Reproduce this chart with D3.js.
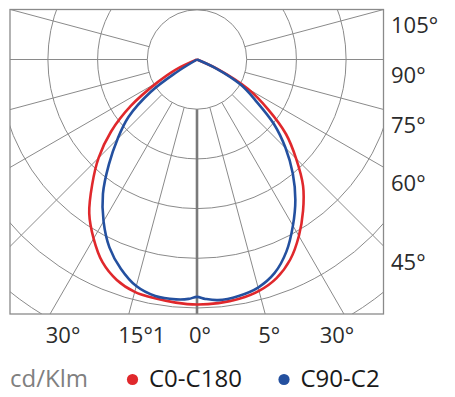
<!DOCTYPE html>
<html>
<head>
<meta charset="utf-8">
<script src="https://cdn.jsdelivr.net/npm/d3@7"></script>
<style>
  html, body { margin: 0; padding: 0; background: #fff; }
  svg { display: block; font-family: "Open Sans", "Noto Sans", sans-serif; }
</style>
</head>
<body>
<svg id="chart" width="455" height="397"></svg>
<script>
// ---------------- DATA ----------------
// angles in degrees from nadir (negative = left), intensities in cd/klm (relative units)
const redAngles  = [-67, -64.5, -60, -55, -50, -45, -40, -35, -30, -25, -20, -15, -10, -5, 0, 5, 10, 15, 20, 25, 30, 35, 40, 45, 50, 55, 60, 65, 69];
const redValues  = [0, 24, 46, 81, 113, 140, 164, 189, 208, 225, 236, 242, 244, 245.5, 246.5, 246, 244.5, 241, 234, 222, 205, 186, 166, 141, 117, 87, 59, 23, 0];
const blueAngles = [-63, -58, -55, -50, -45, -40, -35, -30, -25, -20, -15, -10, -5, -2, 0, 2, 5, 10, 15, 20, 25, 30, 35, 40, 45, 50, 55, 60, 65, 69];
const blueValues = [0, 26, 57, 90, 113, 138, 165, 188, 208.5, 224, 236, 241.6, 242.2, 241, 238.8, 241, 243, 241.5, 237.5, 228.5, 213, 193, 172.5, 150, 126, 101, 72, 51, 21, 0];
const seriesNames = ["C0-C180", "C90-C2"];
const ringValues = [50, 100, 150, 200, 250, 300, 350];
const spokeAngles = [-105, -90, -75, -60, -45, -30, -15, 0, 15, 30, 45, 60, 75, 90, 105];
const rightLabelAngles = [105, 90, 75, 60, 45];
const rightLabels = ["105°", "90°", "75°", "60°", "45°"];
const bottomLabelAngles = [-30, -15, 0, 15, 30];
const bottomLabels = ["30°", "15°1", "0°", "5°", "30°"];
const unitLabel = "cd/Klm";

// ---------------- LAYOUT ----------------
const W = 455, H = 397;
const box = { x0: 10, y0: 9.5, x1: 383.5, y1: 314 };
const cx = 197, cy = 59.5;
const bottomNudge = [13, 13, 3, 4, -7];
const colors = ["#e0282c", "#24509f"];
const gridColor = "#8a8a8a";

const svg = d3.select("#chart");
const r = d3.scaleLinear().domain([0, 50]).range([0, 49.7]);
const toXY = (deg, v) => {
  const a = deg * Math.PI / 180;
  return [cx + r(v) * Math.sin(a), cy + r(v) * Math.cos(a)];
};

svg.append("defs").append("clipPath").attr("id", "boxclip")
  .append("rect").attr("x", box.x0).attr("y", box.y0)
  .attr("width", box.x1 - box.x0).attr("height", box.y1 - box.y0);

const grid = svg.append("g").attr("clip-path", "url(#boxclip)");

// rings
grid.selectAll("circle.ring").data(ringValues).enter().append("circle")
  .attr("class", "ring")
  .attr("cx", cx).attr("cy", cy).attr("r", d => r(d))
  .attr("fill", "none").attr("stroke", gridColor).attr("stroke-width", 1);

// spokes
grid.selectAll("line.spoke").data(spokeAngles).enter().append("line")
  .attr("class", "spoke")
  .attr("x1", d => toXY(d, ringValues[0])[0])
  .attr("y1", d => toXY(d, ringValues[0])[1])
  .attr("x2", d => toXY(d, 600)[0])
  .attr("y2", d => toXY(d, 600)[1])
  .attr("stroke", d => d === 0 ? "#7a7a7a" : gridColor)
  .attr("stroke-width", d => d === 0 ? 2.6 : 1);

// frame
svg.append("rect").attr("x", box.x0).attr("y", box.y0)
  .attr("width", box.x1 - box.x0).attr("height", box.y1 - box.y0)
  .attr("fill", "none").attr("stroke", "#8a8a8a").attr("stroke-width", 1.3);

// curves
const line = d3.line().curve(d3.curveCatmullRom.alpha(0.5));
const series = [
  { angles: redAngles, values: redValues },
  { angles: blueAngles, values: blueValues }
];
series.forEach((s, i) => {
  const pts = s.angles.map((a, j) => toXY(a, s.values[j]));
  svg.append("path").attr("d", line(pts))
    .attr("fill", "none").attr("stroke", colors[i])
    .attr("stroke-width", 2.6).attr("stroke-linejoin", "round");
});

// right labels (just below where the spoke meets the right edge)
svg.selectAll("text.rl").data(rightLabelAngles).enter().append("text")
  .attr("class", "rl")
  .attr("x", box.x1 + 7.5)
  .attr("y", d => {
    const a = d * Math.PI / 180;
    return cy + (box.x1 - cx) / Math.tan(a) + 23.5;
  })
  .attr("font-size", 22).attr("fill", "#2b2b2b")
  .text((d, i) => rightLabels[i]);

// bottom labels
svg.selectAll("text.bl").data(bottomLabelAngles).enter().append("text")
  .attr("class", "bl")
  .attr("x", (d, i) => cx + (box.y1 - cy) * Math.tan(d * Math.PI / 180) + bottomNudge[i])
  .attr("y", 343)
  .attr("text-anchor", "middle")
  .attr("font-size", 22).attr("fill", "#2b2b2b")
  .text((d, i) => bottomLabels[i]);

// legend
svg.append("text").attr("x", 10).attr("y", 387)
  .attr("font-size", 24).attr("fill", "#808080").text(unitLabel);
const legendX = [132.5, 284];
seriesNames.forEach((n, i) => {
  svg.append("circle").attr("cx", legendX[i]).attr("cy", 379.5).attr("r", 5.6).attr("fill", colors[i]);
  svg.append("text").attr("x", legendX[i] + 16.5).attr("y", 387)
    .attr("font-size", 24).attr("fill", "#1a1a1a").text(n);
});
</script>
</body>
</html>
